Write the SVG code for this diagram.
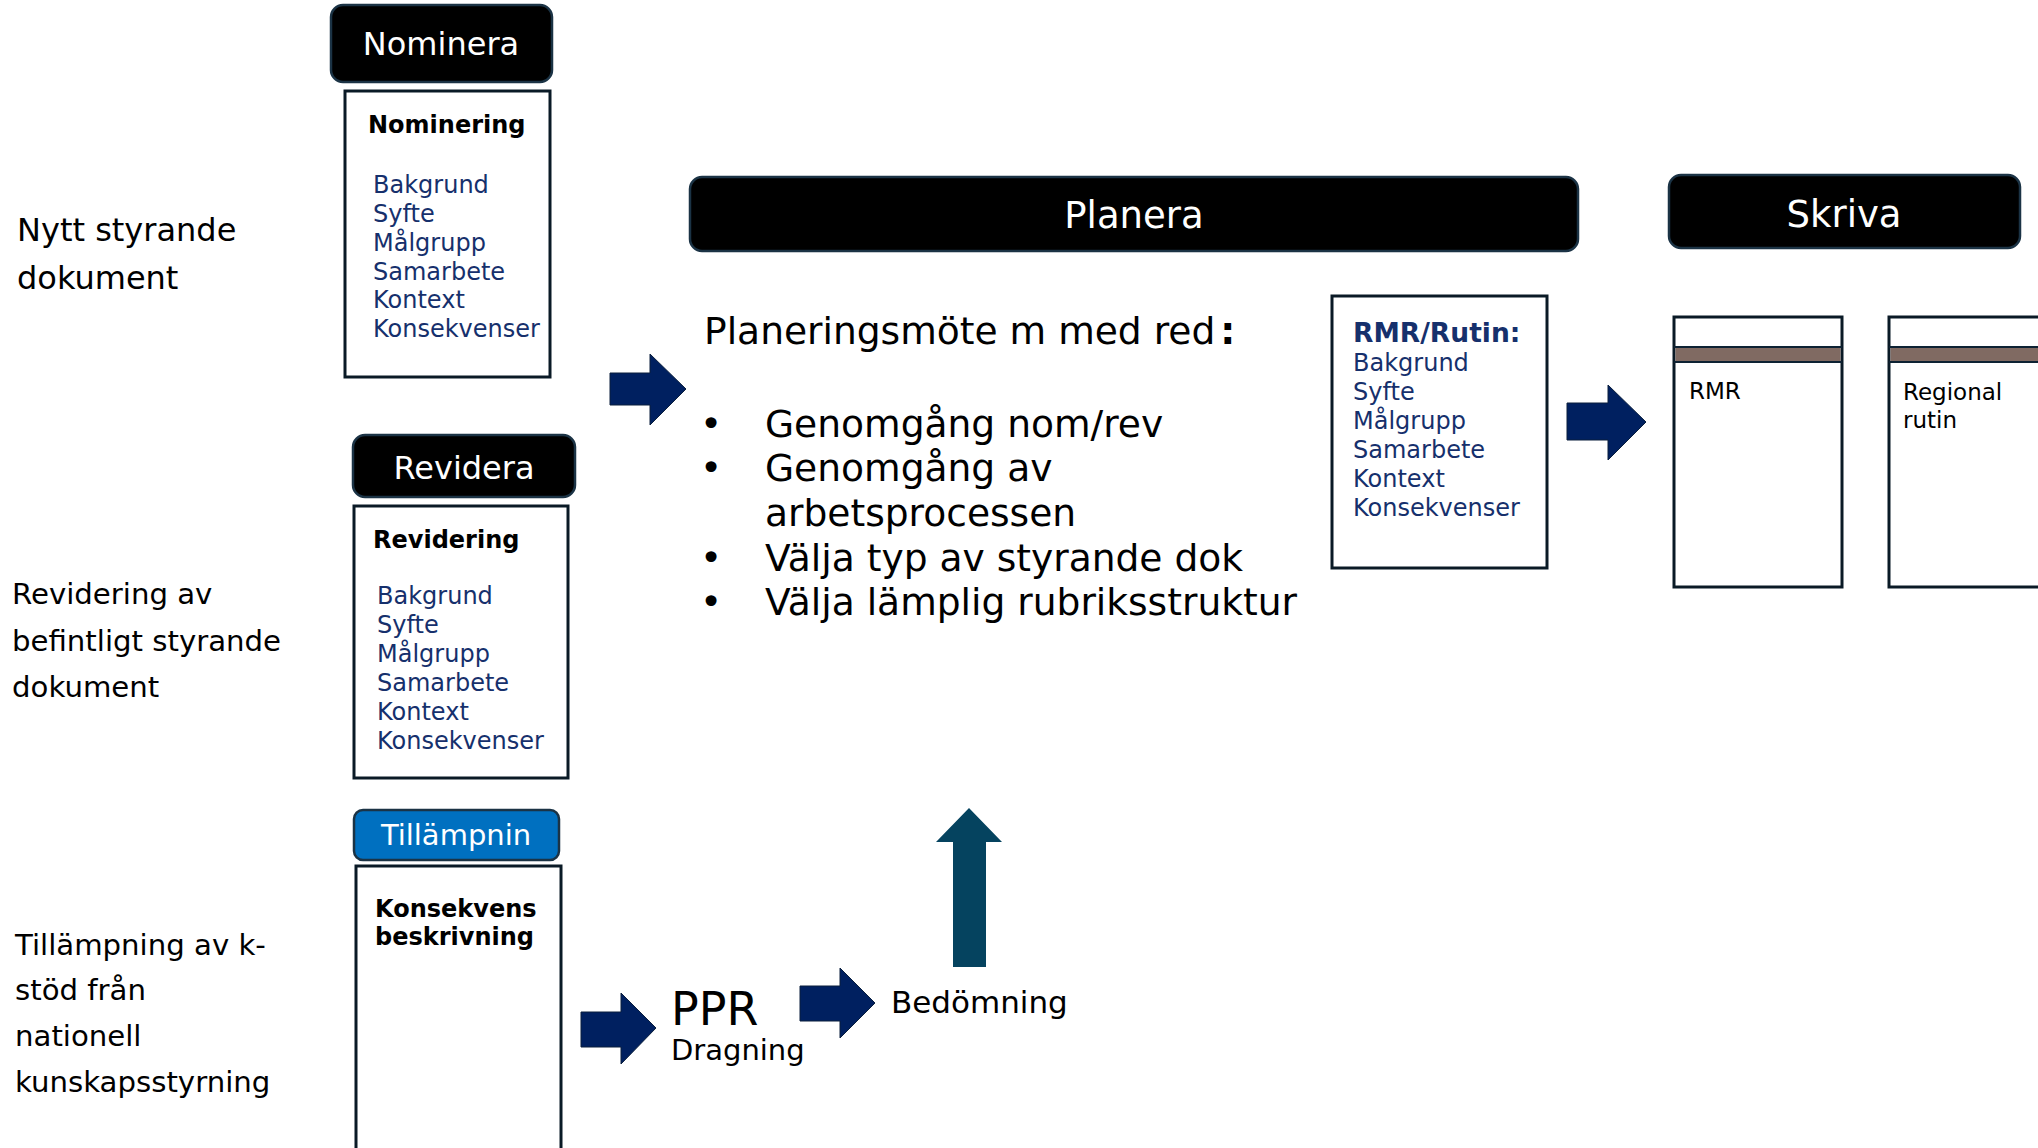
<svg xmlns="http://www.w3.org/2000/svg" width="2038" height="1148" viewBox="0 0 2038 1148">
<style>
text{font-family:"DejaVu Sans","Verdana",sans-serif}
.hdr{fill:#000;stroke:#1b3345;stroke-width:2.5}
.hdrt{fill:#fff;text-anchor:middle}
.box{fill:#fff;stroke:#0a1a26;stroke-width:3}
.lbl{font-size:32px;fill:#000}
.lbl2{font-size:29.2px;fill:#000}
.item{font-size:24px;fill:#16306c}
.ttl{font-size:24px;font-weight:bold;fill:#000}
.big{font-size:37.6px;fill:#000}
.arr{fill:#002060;stroke:#0a1f3d;stroke-width:1}
</style>
<rect width="2038" height="1148" fill="#fff"/>

<g id="label-nytt">
<text class="lbl" x="17" y="241">Nytt styrande</text>
<text class="lbl" x="17" y="289">dokument</text>
</g>
<g id="label-revidering">
<text class="lbl2" x="12" y="604">Revidering av</text>
<text class="lbl2" x="12" y="651">befintligt styrande</text>
<text class="lbl2" x="12" y="697">dokument</text>
</g>
<g id="label-tillampning">
<text class="lbl2" x="15" y="955">Tillämpning av k-</text>
<text class="lbl2" x="15" y="1000">stöd från</text>
<text class="lbl2" x="15" y="1046">nationell</text>
<text class="lbl2" x="15" y="1092">kunskapsstyrning</text>
</g>

<g id="nominera">
<rect class="hdr" x="331" y="5" width="221" height="77" rx="12"/>
<text class="hdrt" x="441" y="55" font-size="32">Nominera</text>
</g>
<g id="nominering">
<rect class="box" x="345" y="91" width="205" height="286"/>
<text class="ttl" x="368" y="133">Nominering</text>
<text class="item" x="373" y="193">Bakgrund</text>
<text class="item" x="373" y="222">Syfte</text>
<text class="item" x="373" y="251">Målgrupp</text>
<text class="item" x="373" y="280">Samarbete</text>
<text class="item" x="373" y="308">Kontext</text>
<text class="item" x="373" y="337">Konsekvenser</text>
</g>

<g id="revidera">
<rect class="hdr" x="353" y="435" width="222" height="62" rx="12"/>
<text class="hdrt" x="464" y="479" font-size="32">Revidera</text>
</g>
<g id="revidering">
<rect class="box" x="354" y="506" width="214" height="272"/>
<text class="ttl" x="373" y="548">Revidering</text>
<text class="item" x="377" y="604">Bakgrund</text>
<text class="item" x="377" y="633">Syfte</text>
<text class="item" x="377" y="662">Målgrupp</text>
<text class="item" x="377" y="691">Samarbete</text>
<text class="item" x="377" y="720">Kontext</text>
<text class="item" x="377" y="749">Konsekvenser</text>
</g>

<g id="tillampnin">
<rect x="354" y="810" width="205" height="50" rx="9" fill="#0070c0" stroke="#1b3345" stroke-width="2.5"/>
<text class="hdrt" x="456" y="845" font-size="29">Tillämpnin</text>
</g>
<g id="konsekvens">
<rect class="box" x="356" y="866" width="205" height="300"/>
<text class="ttl" x="375" y="917">Konsekvens</text>
<text class="ttl" x="375" y="945">beskrivning</text>
</g>

<g id="ppr">
<text x="671" y="1025" font-size="46" fill="#000">PPR</text>
<text x="671" y="1060" font-size="29" fill="#000">Dragning</text>
</g>
<g id="bedomning">
<text x="891" y="1013" font-size="31" fill="#000">Bedömning</text>
</g>

<g id="planera">
<rect class="hdr" x="690" y="177" width="888" height="74" rx="12"/>
<text class="hdrt" x="1134" y="228" font-size="37">Planera</text>
</g>
<g id="planeringsmote">
<text class="big" x="704" y="344">Planeringsmöte m med red<tspan dx="5" font-weight="bold">:</tspan></text>
<text class="big" x="700" y="437">•</text>
<text class="big" x="765" y="437">Genomgång nom/rev</text>
<text class="big" x="700" y="481">•</text>
<text class="big" x="765" y="481">Genomgång av</text>
<text class="big" x="765" y="526">arbetsprocessen</text>
<text class="big" x="700" y="571">•</text>
<text class="big" x="765" y="571">Välja typ av styrande dok</text>
<text class="big" x="700" y="615">•</text>
<text class="big" x="765" y="615">Välja lämplig rubriksstruktur</text>
</g>

<g id="rmr-rutin">
<rect class="box" x="1332" y="296" width="215" height="272" stroke="#0d2233"/>
<text x="1353" y="342" font-size="26.5" font-weight="bold" fill="#16306c">RMR/Rutin:</text>
<text class="item" x="1353" y="371">Bakgrund</text>
<text class="item" x="1353" y="400">Syfte</text>
<text class="item" x="1353" y="429">Målgrupp</text>
<text class="item" x="1353" y="458">Samarbete</text>
<text class="item" x="1353" y="487">Kontext</text>
<text class="item" x="1353" y="516">Konsekvenser</text>
</g>

<g id="skriva">
<rect class="hdr" x="1669" y="175" width="351" height="73" rx="12"/>
<text class="hdrt" x="1844" y="227" font-size="37">Skriva</text>
</g>
<g id="rmr">
<rect class="box" x="1674" y="317" width="168" height="270" stroke="#0d2233"/>
<rect x="1675.5" y="347" width="165" height="15" fill="#806a62"/>
<line x1="1674" y1="347" x2="1842" y2="347" stroke="#0d2233" stroke-width="2"/>
<line x1="1674" y1="362" x2="1842" y2="362" stroke="#0d2233" stroke-width="2"/>
<text x="1689" y="399" font-size="23" fill="#000">RMR</text>
</g>
<g id="regional-rutin">
<rect class="box" x="1889" y="317" width="170" height="270" stroke="#0d2233"/>
<rect x="1890.5" y="347" width="170" height="15" fill="#806a62"/>
<line x1="1889" y1="347" x2="2040" y2="347" stroke="#0d2233" stroke-width="2"/>
<line x1="1889" y1="362" x2="2040" y2="362" stroke="#0d2233" stroke-width="2"/>
<text x="1903" y="400" font-size="23" fill="#000">Regional</text>
<text x="1903" y="428" font-size="23" fill="#000">rutin</text>
</g>

<g id="connectors">
<polygon class="arr" points="610,373 650,373 650,354 686,389 650,425 650,405 610,405"/>
<polygon class="arr" points="1567,403 1608,403 1608,385 1646,422 1608,460 1608,440 1567,440"/>
<polygon class="arr" points="581,1012 621,1012 621,993 656,1028 621,1064 621,1047 581,1047"/>
<polygon class="arr" points="800,986 840,986 840,968 875,1003 840,1038 840,1021 800,1021"/>
<polygon points="953,967 953,842 936,842 969,808 1002,842 986,842 986,967" fill="#05435f"/>
</g>
</svg>
